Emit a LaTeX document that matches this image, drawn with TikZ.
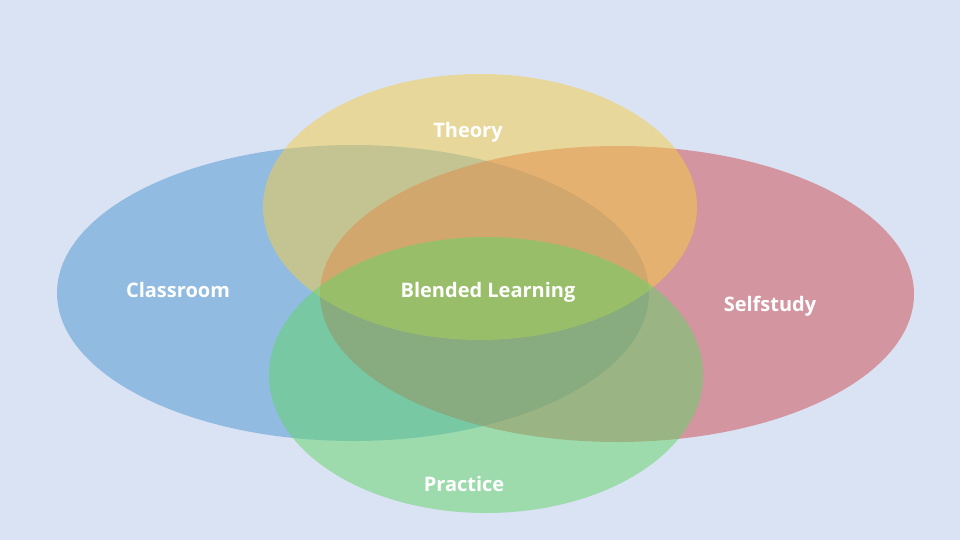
\documentclass[tikz,border=0pt]{standalone}
\usepackage{fontspec}
\setmainfont{Open Sans}
\definecolor{bg}{RGB}{218,227,243}
\definecolor{cblue}{RGB}{74,149,209}
\definecolor{cred}{RGB}{206,73,77}
\definecolor{cyel}{RGB}{246,205,69}
\definecolor{cgreen}{RGB}{98,213,105}
\begin{document}
\begin{tikzpicture}[x=1pt,y=-1pt,
  venn/.style={fill opacity=0.5,draw=none},
  lbl/.style={text=white,font=\fontsize{20}{24}\selectfont\bfseries}]
\fill[bg] (0,0) rectangle (960,540);
\useasboundingbox (0,0) rectangle (960,540);
\fill[venn,cblue] (353,293) ellipse [x radius=296,y radius=148];
\fill[venn,cred] (617,294) ellipse [x radius=297,y radius=148];
\fill[venn,cyel] (480,207) ellipse [x radius=217,y radius=133];
\fill[venn,cgreen] (486,375) ellipse [x radius=217,y radius=138];
\node[lbl] (classroom) at (178,290) {Classroom};
\node[lbl] (selfstudy) at (770,306) {Selfstudy};
\node[lbl] (theory) at (468,132) {Theory};
\node[lbl] (practice) at (464,484) {Practice};
\node[lbl] (blended) at (488,292) {Blended Learning};
\end{tikzpicture}
\end{document}
